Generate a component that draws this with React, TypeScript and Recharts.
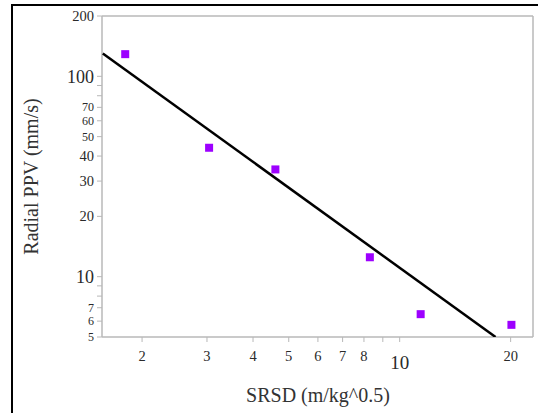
import React from "react";
import { ScatterChart, Scatter, XAxis, YAxis } from "recharts";

const srsd = [1.8, 3.04, 4.6, 8.3, 11.4, 20.1];
const ppv = [129, 44, 34.3, 12.5, 6.5, 5.75];
const fitX = [1.565, 18.2];
const fitY = [130, 5];
const xTicks = [2, 3, 4, 5, 6, 7, 8, 9, 10, 20];
const yTicks = [5, 6, 7, 8, 9, 10, 20, 30, 40, 50, 60, 70, 80, 90, 100, 200];
const xHidden = [9];
const yHidden = [8, 9, 80, 90];
const bigLabels = [10, 100];
const tightLabels = [5, 6, 7, 50, 60, 70];

const points = srsd.map((x, i) => ({ x, y: ppv[i] }));
const fit = fitX.map((x, i) => ({ x, y: fitY[i] }));

const FONT = "'Liberation Serif', 'Times New Roman', serif";
const GRAY = "#b8b8b8";

const XTick = (props: any) => {
  const { x, y, payload } = props;
  const v = payload.value;
  if (xHidden.includes(v)) return null;
  const big = bigLabels.includes(v);
  return (
    <text x={x} y={y + (big ? 25 : 17)} textAnchor="middle" fontSize={big ? 19 : 14.5} fill="#2a2a2a" fontFamily={FONT}>
      {v}
    </text>
  );
};

const YTick = (props: any) => {
  const { x, y, payload } = props;
  const v = payload.value;
  if (yHidden.includes(v)) return null;
  const big = bigLabels.includes(v);
  const tight = tightLabels.includes(v);
  const fs = big ? 18 : tight ? 12 : 14.5;
  return (
    <text x={x - 1} y={y + (big ? 6.5 : tight ? 4 : 4.8)} textAnchor="end" fontSize={fs} fill="#2a2a2a" fontFamily={FONT}>
      {v}
    </text>
  );
};

const Square = (props: any) => {
  const { cx, cy } = props;
  return <rect x={cx - 4} y={cy - 4} width={8} height={8} fill="#9d00ff" />;
};

export default function App() {
  return (
    <div style={{ position: "absolute", left: 0, top: 0, width: 538, height: 413, overflow: "hidden", background: "#fff" }}>
      <div style={{ position: "absolute", left: 11, top: 4, width: 560, height: 430, borderTop: "2px solid #000", borderLeft: "2px solid #000" }} />
      <ScatterChart width={538} height={413} margin={{ top: 15, right: 4, bottom: 75, left: 101 }}>
        <XAxis
          xAxisId="b"
          dataKey="x"
          type="number"
          scale="log"
          domain={[1.557, 23]}
          allowDataOverflow
          ticks={xTicks}
          tick={<XTick />}
          tickSize={5}
          height={1}
          axisLine={{ stroke: GRAY, strokeWidth: 1.5 }}
          tickLine={{ stroke: GRAY }}
          interval={0}
        />
        <XAxis xAxisId="t" orientation="top" type="number" domain={[0, 1]} tick={false} tickLine={false} height={1} axisLine={{ stroke: GRAY, strokeWidth: 1.5 }} />
        <YAxis
          yAxisId="l"
          dataKey="y"
          type="number"
          scale="log"
          domain={[5, 200]}
          allowDataOverflow
          ticks={yTicks}
          tick={<YTick />}
          tickSize={5}
          width={1}
          axisLine={{ stroke: GRAY, strokeWidth: 1.5 }}
          tickLine={{ stroke: GRAY }}
          interval={0}
        />
        <YAxis yAxisId="r" orientation="right" type="number" domain={[0, 1]} tick={false} tickLine={false} width={1} axisLine={{ stroke: GRAY, strokeWidth: 1.5 }} />
        <Scatter xAxisId="b" yAxisId="l" data={fit} line={{ stroke: "#000", strokeWidth: 2.5 }} shape={() => null} isAnimationActive={false} />
        <Scatter xAxisId="b" yAxisId="l" data={points} shape={<Square />} isAnimationActive={false} />
        <text x={318} y={402} textAnchor="middle" fontSize={20} fill="#333" fontFamily={FONT}>
          SRSD (m/kg^0.5)
        </text>
        <text x={38} y={176.5} transform="rotate(-90, 38, 176.5)" textAnchor="middle" fontSize={20} fill="#333" fontFamily={FONT}>
          Radial PPV (mm/s)
        </text>
      </ScatterChart>
    </div>
  );
}
